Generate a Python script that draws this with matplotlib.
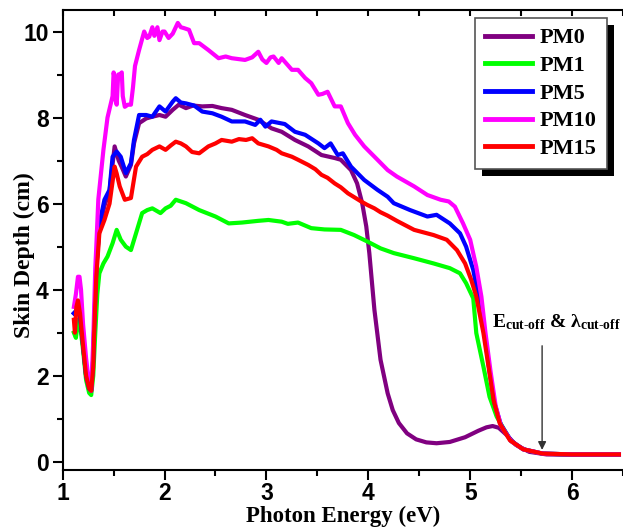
import matplotlib
matplotlib.use("Agg")
import matplotlib.pyplot as plt
from matplotlib.patches import Rectangle

# Skin depth vs photon energy
pm0_x = [1.11, 1.13, 1.15, 1.17, 1.20, 1.23, 1.26, 1.28, 1.30, 1.31,
         1.33, 1.36, 1.41, 1.46, 1.51, 1.55, 1.58, 1.62, 1.67, 1.70,
         1.75, 1.82, 1.88, 1.95, 2.01, 2.08, 2.14, 2.21, 2.28, 2.37,
         2.47, 2.56, 2.66, 2.79, 2.92, 3.05, 3.15, 3.28, 3.41, 3.54,
         3.67, 3.73, 3.83, 3.89, 3.94, 3.98, 4.01, 4.06, 4.12, 4.19,
         4.24, 4.30, 4.38, 4.47, 4.57, 4.67, 4.80, 4.95, 5.08, 5.16,
         5.22, 5.28, 5.35, 5.45, 5.58, 5.75, 6.00, 6.46]
pm0_y = [3.45, 3.5, 3.6, 3.4, 2.7, 2.0, 1.70, 1.65, 2.4, 3.2,
         4.5, 5.4, 5.95, 6.3, 7.33, 7.0, 6.85, 6.63, 6.9, 7.4,
         7.87, 7.98, 8.02, 8.06, 8.02, 8.18, 8.30, 8.22, 8.28, 8.26,
         8.27, 8.22, 8.18, 8.06, 7.95, 7.75, 7.67, 7.48, 7.33, 7.13,
         7.06, 7.02, 6.78, 6.47, 6.01, 5.47, 4.85, 3.53, 2.37, 1.59,
         1.20, 0.90, 0.66, 0.52, 0.45, 0.43, 0.46, 0.57, 0.72, 0.80,
         0.83, 0.79, 0.64, 0.39, 0.23, 0.17, 0.16, 0.16]

pm1_x = [1.11, 1.13, 1.15, 1.17, 1.20, 1.23, 1.26, 1.28, 1.30, 1.32,
         1.34, 1.36, 1.40, 1.44, 1.49, 1.53, 1.57, 1.62, 1.67, 1.72,
         1.78, 1.83, 1.88, 1.96, 2.01, 2.06, 2.11, 2.16, 2.21, 2.34,
         2.50, 2.63, 2.76, 2.92, 3.02, 3.15, 3.21, 3.31, 3.44, 3.57,
         3.73, 3.86, 3.99, 4.12, 4.25, 4.45, 4.64, 4.80, 4.90, 4.96,
         5.03, 5.06, 5.13, 5.19, 5.26, 5.32, 5.40, 5.52, 5.71, 6.00,
         6.46]
pm1_y = [3.0, 2.88, 3.3, 3.2, 2.6, 1.9, 1.6, 1.55, 2.0, 3.0,
         3.9, 4.38, 4.61, 4.77, 5.08, 5.39, 5.16, 5.0, 4.92, 5.31,
         5.78, 5.85, 5.89, 5.78, 5.89, 5.95, 6.09, 6.05, 6.01, 5.85,
         5.70, 5.54, 5.56, 5.60, 5.62, 5.58, 5.53, 5.56, 5.43, 5.40,
         5.39, 5.27, 5.12, 4.96, 4.85, 4.73, 4.61, 4.50, 4.38, 4.15,
         3.8, 2.99, 2.21, 1.51, 1.05, 0.80, 0.48, 0.29, 0.19, 0.17,
         0.17]

pm5_x = [1.11, 1.13, 1.15, 1.17, 1.20, 1.23, 1.26, 1.28, 1.30, 1.31,
         1.33, 1.36, 1.38, 1.41, 1.46, 1.49, 1.53, 1.57, 1.62, 1.67,
         1.70, 1.75, 1.82, 1.88, 1.95, 2.01, 2.08, 2.11, 2.16, 2.21,
         2.29, 2.37, 2.47, 2.56, 2.66, 2.79, 2.89, 2.94, 2.99, 3.05,
         3.18, 3.28, 3.38, 3.51, 3.57, 3.63, 3.70, 3.75, 3.83, 3.96,
         4.09, 4.19, 4.25, 4.41, 4.58, 4.67, 4.80, 4.90, 4.96, 5.03,
         5.08, 5.14, 5.19, 5.24, 5.30, 5.40, 5.52, 5.71, 6.00, 6.46]
pm5_y = [3.45, 3.5, 3.6, 3.4, 2.7, 2.0, 1.70, 1.65, 2.4, 3.2,
         4.5, 5.5, 5.75, 6.09, 6.32, 7.09, 7.21, 7.09, 6.71, 6.94,
         7.48, 8.06, 8.06, 8.02, 8.26, 8.14, 8.37, 8.45, 8.35, 8.33,
         8.28, 8.14, 8.10, 8.02, 7.91, 7.91, 7.83, 7.95, 7.79, 7.91,
         7.85, 7.67, 7.60, 7.40, 7.29, 7.40, 7.13, 7.17, 6.86, 6.55,
         6.32, 6.16, 6.01, 5.85, 5.70, 5.74, 5.54, 5.31, 5.00, 4.46,
         3.84, 3.0, 2.1, 1.35, 0.87, 0.49, 0.29, 0.19, 0.17, 0.17]

pm10_x = [1.11, 1.13, 1.15, 1.165, 1.18, 1.20, 1.23, 1.26, 1.28, 1.30,
          1.32, 1.33, 1.35, 1.40, 1.44, 1.47, 1.49, 1.50, 1.51, 1.52,
          1.53, 1.545, 1.56, 1.58, 1.59, 1.61, 1.64, 1.67, 1.69, 1.71,
          1.75, 1.80, 1.83, 1.85, 1.88, 1.90, 1.93, 1.95, 1.98, 2.00,
          2.04, 2.08, 2.13, 2.16, 2.19, 2.24, 2.29, 2.34, 2.43, 2.53,
          2.60, 2.66, 2.79, 2.86, 2.92, 2.96, 3.00, 3.04, 3.07, 3.12,
          3.15, 3.25, 3.31, 3.38, 3.44, 3.51, 3.55, 3.60, 3.67, 3.73,
          3.80, 3.87, 3.96, 4.09, 4.19, 4.28, 4.45, 4.58, 4.71, 4.79,
          4.85, 4.93, 5.00, 5.06, 5.11, 5.15, 5.20, 5.25, 5.30, 5.40,
          5.52, 5.71, 6.00, 6.46]
pm10_y = [3.6, 3.9, 4.3, 4.3, 4.0, 3.2, 2.4, 1.8, 1.65, 2.8,
          4.5, 5.0, 6.1, 7.25, 8.0, 8.3, 8.5, 9.05, 8.9, 8.4,
          8.3, 9.0, 9.0, 9.05, 8.5, 8.25, 8.3, 8.3, 8.7, 9.2,
          9.57, 10.0, 9.85, 9.88, 10.1, 9.9, 10.1, 9.8, 10.0, 10.0,
          9.85, 9.95, 10.2, 10.1, 10.08, 10.04, 9.73, 9.73, 9.57, 9.38,
          9.42, 9.38, 9.34, 9.40, 9.53, 9.35, 9.27, 9.40, 9.42, 9.27,
          9.38, 9.11, 9.11, 8.92, 8.8, 8.53, 8.55, 8.6, 8.26, 8.26,
          7.87, 7.6, 7.33, 7.02, 6.78, 6.63, 6.40, 6.20, 6.09, 6.05,
          5.93, 5.54, 5.16, 4.53, 3.84, 3.0, 2.1, 1.3, 0.85, 0.48,
          0.29, 0.19, 0.17, 0.17]

pm15_x = [1.11, 1.12, 1.135, 1.15, 1.17, 1.20, 1.23, 1.26, 1.28, 1.30,
          1.31, 1.33, 1.36, 1.41, 1.46, 1.51, 1.53, 1.56, 1.61, 1.67,
          1.72, 1.78, 1.83, 1.88, 1.95, 2.01, 2.06, 2.11, 2.16, 2.21,
          2.27, 2.34, 2.43, 2.50, 2.56, 2.66, 2.73, 2.80, 2.86, 2.92,
          3.02, 3.10, 3.15, 3.25, 3.31, 3.41, 3.48, 3.54, 3.60, 3.67,
          3.73, 3.80, 3.93, 3.99, 4.06, 4.12, 4.19, 4.28, 4.45, 4.64,
          4.77, 4.87, 4.95, 5.01, 5.06, 5.13, 5.18, 5.23, 5.29, 5.39,
          5.52, 5.71, 6.00, 6.46]
pm15_y = [3.30, 3.00, 3.60, 3.75, 3.45, 2.70, 2.00, 1.70, 1.65, 2.20,
          3.06, 4.30, 5.31, 5.62, 6.00, 6.86, 6.70, 6.40, 6.09, 6.13,
          6.86, 7.09, 7.15, 7.25, 7.33, 7.25, 7.35, 7.44, 7.40, 7.33,
          7.20, 7.17, 7.33, 7.40, 7.48, 7.44, 7.50, 7.48, 7.52, 7.40,
          7.33, 7.25, 7.17, 7.09, 7.02, 6.90, 6.80, 6.67, 6.60, 6.47,
          6.38, 6.24, 6.05, 5.97, 5.89, 5.80, 5.72, 5.60, 5.39, 5.27,
          5.16, 4.92, 4.61, 4.23, 3.84, 2.99, 2.21, 1.43, 0.89, 0.50,
          0.29, 0.19, 0.17, 0.17]

labels = ["PM0", "PM1", "PM5", "PM10", "PM15"]
colors = ["#800080", "#00FF00", "#0000FF", "#FF00FF", "#FF0000"]
series = [(pm0_x, pm0_y), (pm1_x, pm1_y), (pm5_x, pm5_y),
          (pm10_x, pm10_y), (pm15_x, pm15_y)]

cutoff_energy = 5.706

plt.rcParams["mathtext.fontset"] = "custom"
plt.rcParams["mathtext.rm"] = "Liberation Serif:bold"
plt.rcParams["mathtext.it"] = "Liberation Serif:bold"
plt.rcParams["mathtext.bf"] = "Liberation Serif:bold"

fig = plt.figure(figsize=(6.23, 5.28), dpi=100)
ax = fig.add_axes([0.1006, 0.110, 0.8994, 0.871])

for (xs, ys), lab, col in zip(series, labels, colors):
    ax.plot(xs, ys, color=col, lw=3, label=lab, solid_joinstyle="round")

ax.set_xlim(1.0, 6.455)
ax.set_ylim(-0.19, 10.5)
ax.set_xticks([1, 2, 3, 4, 5, 6])
ax.set_xticks([1.5, 2.5, 3.5, 4.5, 5.5, 6.5], minor=True)
ax.set_yticks([0, 2, 4, 6, 8, 10])
ax.set_yticks([1, 3, 5, 7, 9], minor=True)

for s in ["left", "bottom", "top"]:
    ax.spines[s].set_linewidth(1.5)
ax.spines["right"].set_visible(False)

ax.tick_params(axis="both", which="major", direction="out", length=7, width=1.5,
               labelsize=16.5, pad=3)
ax.tick_params(axis="x", which="major", pad=2)
ax.tick_params(axis="both", which="minor", direction="out", length=4, width=1.5)
ax.tick_params(axis="x", which="both", top=True, labeltop=False)
for t in ax.get_xticklabels() + ax.get_yticklabels():
    t.set_fontfamily("Liberation Sans")
    t.set_fontweight("bold")
# top ticks point inward
for tick in ax.xaxis.get_major_ticks() + ax.xaxis.get_minor_ticks():
    tick.tick2line.set_marker(3)
    tick.tick2line.set_markersize(4)

ax.set_xlabel("Photon Energy (eV)", fontfamily="Liberation Serif",
              fontweight="bold", fontsize=16.5, labelpad=0)
ax.set_ylabel("Skin Depth (cm)", fontfamily="Liberation Serif",
              fontweight="bold", fontsize=17)
ax.yaxis.set_label_coords(-0.050, 0.467)

leg = ax.legend(loc="upper right", bbox_to_anchor=(0.971, 0.983),
                borderaxespad=0, fancybox=False, framealpha=1,
                edgecolor="#555555", handlelength=2.1, handletextpad=0.35,
                labelspacing=0.32, borderpad=0.45,
                prop={"family": "Liberation Serif", "weight": "bold", "size": 16})
leg.get_frame().set_linewidth(1.2)
for h in leg.get_lines():
    h.set_linewidth(3.5)
leg.set_zorder(10)

ax.annotate("", xy=(cutoff_energy, 0.21), xytext=(cutoff_energy, 2.76),
            arrowprops=dict(arrowstyle="-|>", color="#333333", lw=1,
                            mutation_scale=12))
ax.text(5.21, 3.12, r"$\mathrm{E_{cut\text{-}off}}$ & $\mathrm{\lambda_{cut\text{-}off}}$",
        fontsize=14, fontfamily="Liberation Serif", fontweight="bold",
        ha="left", va="baseline")

# black drop shadow behind the legend box
fig.canvas.draw()
bb = leg.get_window_extent()
off = 7
shadow = Rectangle((bb.x0 + off, bb.y0 - off), bb.width, bb.height,
                   transform=None, facecolor="black", edgecolor="none",
                   zorder=9)
ax.add_artist(shadow)

fig.savefig("out.png", dpi=100)
